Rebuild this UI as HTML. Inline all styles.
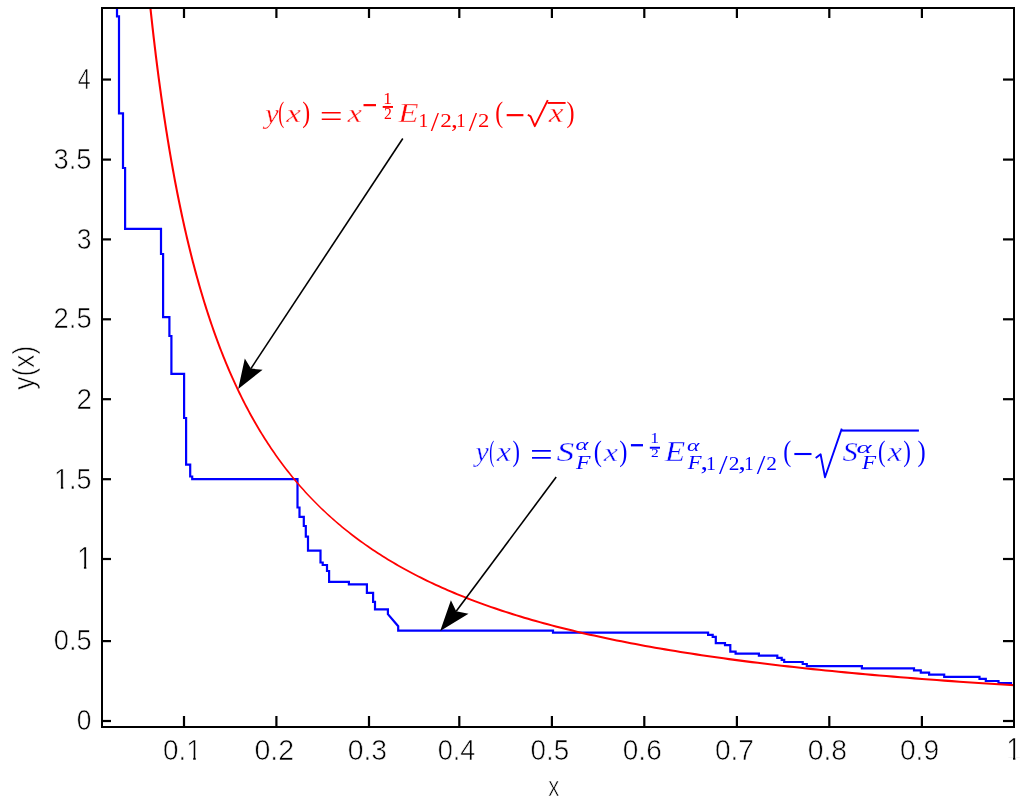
<!DOCTYPE html>
<html><head><meta charset="utf-8"><title>y(x) plot</title><style>
html,body{margin:0;padding:0;background:#fff;overflow:hidden;}
svg{display:block;will-change:transform;}
text{font-kerning:none;}
text.sm{stroke:none;}
.s{font-family:"Liberation Sans",sans-serif;stroke:#fff;stroke-width:0.6px;}
.m{font-family:"Liberation Serif",serif;}
.mi{font-family:"Liberation Serif",serif;font-style:italic;stroke:#fff;stroke-width:0.35px;}
</style></head><body>
<svg width="1024" height="810" viewBox="0 0 1024 810">
<defs><clipPath id="c1_0"><rect x="-280.000" y="-280.000" width="280.000" height="560.000"/><rect x="15.572" y="-280.000" width="280.000" height="560.000"/><rect x="-280.000" y="-280.000" width="840.000" height="277.471"/><rect x="7.041" y="-280.000" width="2.475" height="560.000"/></clipPath><clipPath id="c1_1"><rect x="-280.000" y="-280.000" width="280.000" height="560.000"/><rect x="15.572" y="-280.000" width="280.000" height="560.000"/><rect x="-280.000" y="-280.000" width="840.000" height="277.471"/><rect x="7.041" y="-280.000" width="2.475" height="560.000"/></clipPath><clipPath id="c1_2"><rect x="-280.000" y="-280.000" width="303.352" height="560.000"/><rect x="38.924" y="-280.000" width="280.000" height="560.000"/><rect x="-280.000" y="-280.000" width="840.000" height="277.471"/><rect x="30.393" y="-280.000" width="2.475" height="560.000"/></clipPath></defs>
<rect width="1024" height="810" fill="#fff"/>
<g fill="none" stroke-width="2.2" stroke-linejoin="miter">
<path d="M117,8 V16.4 H119 V113.3 H123 V168 H125.1 V228.9 H161 V254 H163.1 V317.1 H169.4 V336 H171.4 V373.8 H184.1 V418 H186.1 V464.6 H190.2 V476.5 H192.2 V479.1 H297.5 V507.5 H299.5 V516.9 H303.8 V526 H305.8 V536.6 H308 V550.7 H320.5 V562.5 H322.7 V565 H327 V571 H329.1 V581.9 H348.9 V584.4 H366.9 V592.8 H373.1 V601.9 H375 V609.4 H387.9 V614.2 L398.2,626.2 V630.6 H553 V632.7 H708.1 V634.9 H712.7 V636.9 H715.8 V643.2 H725 V645.2 H730.3 V651.6 H735.6 V653.7 H758.9 V655.7 H777.3 V657.9 H781.7 V659.8 H784.2 V662 H802.7 V664 H806.8 V666.1 H861.9 V668.4 H914 V670.4 H920.8 V672.6 H929.1 V674.7 H944.2 V676.8 H979.5 V678.9 H985.8 V681 H998.5 V683 H1011 V685 H1013" stroke="#0000ff"/>
<path d="M149.05,8.03 L149.07,8.37 L149.59,13.18 L150.11,17.96 L150.64,22.72 L151.17,27.45 L151.70,32.16 L152.24,36.84 L152.79,41.49 L153.34,46.12 L153.89,50.72 L154.45,55.30 L155.02,59.85 L155.59,64.37 L156.16,68.87 L156.74,73.35 L157.33,77.80 L157.92,82.23 L158.52,86.63 L159.12,91.01 L159.72,95.37 L160.34,99.70 L160.95,104.01 L161.58,108.29 L162.20,112.56 L162.84,116.79 L163.48,121.01 L164.12,125.20 L164.77,129.37 L165.43,133.52 L166.09,137.64 L166.76,141.74 L167.44,145.82 L168.12,149.88 L168.80,153.91 L169.49,157.93 L170.19,161.92 L170.90,165.89 L171.61,169.83 L172.33,173.76 L173.05,177.67 L173.78,181.55 L174.52,185.41 L175.26,189.25 L176.01,193.07 L176.77,196.87 L177.53,200.65 L178.30,204.41 L179.08,208.15 L179.86,211.87 L180.65,215.56 L181.45,219.24 L182.25,222.90 L183.07,226.53 L183.88,230.15 L184.71,233.75 L185.54,237.32 L186.39,240.88 L187.23,244.42 L188.09,247.94 L188.95,251.44 L189.83,254.92 L190.71,258.38 L191.59,261.82 L192.49,265.24 L193.39,268.65 L194.30,272.03 L195.22,275.40 L196.15,278.74 L197.08,282.07 L198.03,285.38 L198.98,288.67 L199.94,291.95 L200.91,295.20 L201.89,298.44 L202.87,301.66 L203.87,304.86 L204.87,308.04 L205.89,311.21 L206.91,314.35 L207.94,317.48 L208.98,320.59 L210.03,323.69 L211.09,326.76 L212.16,329.82 L213.23,332.86 L214.32,335.89 L215.42,338.89 L216.53,341.88 L217.64,344.86 L218.77,347.81 L219.91,350.75 L221.05,353.67 L222.21,356.58 L223.38,359.46 L224.56,362.33 L225.74,365.19 L226.94,368.03 L228.15,370.85 L229.37,373.65 L230.60,376.44 L231.85,379.21 L233.10,381.97 L234.36,384.71 L235.64,387.43 L236.93,390.14 L238.22,392.83 L239.53,395.50 L240.86,398.16 L242.19,400.80 L243.53,403.43 L244.89,406.04 L246.26,408.64 L247.64,411.22 L249.04,413.78 L250.44,416.33 L251.86,418.86 L253.29,421.38 L254.74,423.88 L256.19,426.37 L257.66,428.84 L259.14,431.30 L260.64,433.74 L262.15,436.17 L263.67,438.58 L265.21,440.98 L266.76,443.36 L268.32,445.72 L269.90,448.08 L271.49,450.41 L273.10,452.74 L274.72,455.04 L276.35,457.34 L278.00,459.61 L279.66,461.88 L281.34,464.13 L283.03,466.36 L284.74,468.58 L286.46,470.79 L288.20,472.98 L289.95,475.16 L291.72,477.32 L293.51,479.47 L295.31,481.61 L297.13,483.73 L298.96,485.84 L300.81,487.93 L302.67,490.01 L304.55,492.07 L306.45,494.13 L308.37,496.16 L310.30,498.19 L312.25,500.20 L314.21,502.20 L316.20,504.18 L318.19,506.16 L320.20,508.13 L322.23,510.08 L324.28,512.02 L326.34,513.95 L328.42,515.86 L330.53,517.76 L332.65,519.65 L334.79,521.52 L336.95,523.38 L339.12,525.23 L341.32,527.07 L343.54,528.89 L345.77,530.70 L348.03,532.50 L350.31,534.29 L352.60,536.06 L354.92,537.82 L357.26,539.57 L359.62,541.30 L362.00,543.02 L364.40,544.74 L366.82,546.43 L369.27,548.12 L371.73,549.80 L374.22,551.46 L376.73,553.11 L379.26,554.75 L381.82,556.37 L384.39,557.99 L386.99,559.59 L389.62,561.18 L392.26,562.76 L394.93,564.33 L397.62,565.88 L400.34,567.43 L403.08,568.96 L405.85,570.48 L408.64,571.99 L411.45,573.49 L414.29,574.98 L417.16,576.45 L420.05,577.92 L422.97,579.37 L425.91,580.81 L428.88,582.24 L431.87,583.66 L434.89,585.07 L437.94,586.47 L441.01,587.86 L444.12,589.24 L447.24,590.60 L450.40,591.96 L453.59,593.30 L456.80,594.63 L460.04,595.96 L463.31,597.27 L466.61,598.57 L469.94,599.86 L473.30,601.15 L476.68,602.42 L480.10,603.68 L483.55,604.93 L487.03,606.17 L490.53,607.40 L494.07,608.62 L497.65,609.83 L501.25,611.03 L504.88,612.22 L508.55,613.40 L512.25,614.58 L515.98,615.74 L519.75,616.89 L523.54,618.03 L527.38,619.16 L531.24,620.29 L535.14,621.40 L539.08,622.50 L543.04,623.60 L547.05,624.68 L551.09,625.76 L555.16,626.83 L559.27,627.88 L563.42,628.93 L567.61,629.97 L571.83,631.00 L576.09,632.02 L580.38,633.04 L584.72,634.04 L589.09,635.04 L593.50,636.02 L597.95,637.00 L602.44,637.97 L606.97,638.93 L611.54,639.88 L616.15,640.83 L620.80,641.76 L625.49,642.69 L630.22,643.60 L635.00,644.51 L639.82,645.42 L644.68,646.31 L649.58,647.20 L654.52,648.07 L659.51,648.94 L664.55,649.80 L669.63,650.66 L674.75,651.50 L679.92,652.34 L685.13,653.17 L690.39,653.99 L695.70,654.80 L701.06,655.61 L706.46,656.41 L711.91,657.20 L717.40,657.99 L722.95,658.76 L728.55,659.53 L734.19,660.29 L739.89,661.05 L745.63,661.79 L751.43,662.53 L757.27,663.27 L763.17,663.99 L769.12,664.71 L775.13,665.42 L781.18,666.13 L787.30,666.82 L793.46,667.52 L799.68,668.20 L805.95,668.88 L812.28,669.55 L818.67,670.21 L825.11,670.87 L831.61,671.52 L838.17,672.16 L844.78,672.80 L851.46,673.43 L858.19,674.05 L864.98,674.67 L871.83,675.28 L878.75,675.89 L885.72,676.49 L892.76,677.08 L899.85,677.67 L907.01,678.25 L914.24,678.82 L921.53,679.39 L928.88,679.96 L936.30,680.51 L943.78,681.06 L951.33,681.61 L958.95,682.15 L966.63,682.68 L974.38,683.21 L982.20,683.73 L990.09,684.25 L998.05,684.76 L1006.08,685.26 L1013.54,685.72 L1013.66,683.63 L1006.22,683.17 L998.19,682.67 L990.23,682.16 L982.34,681.64 L974.52,681.12 L966.78,680.59 L959.09,680.06 L951.48,679.52 L943.93,678.97 L936.45,678.42 L929.04,677.87 L921.69,677.30 L914.40,676.74 L907.18,676.16 L900.02,675.58 L892.93,675.00 L885.90,674.40 L878.93,673.80 L872.02,673.20 L865.17,672.59 L858.38,671.97 L851.65,671.35 L844.98,670.72 L838.37,670.08 L831.82,669.44 L825.32,668.79 L818.88,668.13 L812.50,667.47 L806.18,666.80 L799.90,666.12 L793.69,665.44 L787.53,664.75 L781.42,664.05 L775.37,663.35 L769.37,662.64 L763.42,661.92 L757.53,661.20 L751.69,660.47 L745.90,659.73 L740.16,658.98 L734.47,658.23 L728.83,657.47 L723.24,656.70 L717.70,655.93 L712.20,655.14 L706.76,654.35 L701.36,653.56 L696.01,652.75 L690.71,651.94 L685.46,651.12 L680.25,650.29 L675.08,649.46 L669.97,648.61 L664.89,647.76 L659.87,646.90 L654.88,646.04 L649.94,645.16 L645.05,644.28 L640.19,643.39 L635.38,642.49 L630.61,641.58 L625.89,640.66 L621.20,639.74 L616.56,638.81 L611.95,637.87 L607.39,636.92 L602.87,635.96 L598.39,635.00 L593.94,634.02 L589.54,633.04 L585.17,632.05 L580.85,631.05 L576.56,630.04 L572.31,629.02 L568.09,627.99 L563.92,626.96 L559.78,625.91 L555.67,624.86 L551.61,623.80 L547.57,622.72 L543.58,621.64 L539.62,620.55 L535.69,619.45 L531.80,618.35 L527.94,617.23 L524.12,616.10 L520.33,614.96 L516.57,613.82 L512.85,612.66 L509.16,611.50 L505.50,610.32 L501.87,609.14 L498.28,607.94 L494.72,606.74 L491.19,605.53 L487.69,604.30 L484.22,603.07 L480.78,601.83 L477.37,600.57 L473.99,599.31 L470.64,598.04 L467.32,596.75 L464.03,595.46 L460.77,594.15 L457.54,592.84 L454.33,591.51 L451.16,590.18 L448.01,588.83 L444.89,587.48 L441.80,586.11 L438.73,584.73 L435.69,583.34 L432.68,581.94 L429.69,580.53 L426.73,579.11 L423.80,577.68 L420.89,576.24 L418.01,574.79 L415.15,573.32 L412.32,571.85 L409.51,570.36 L406.73,568.86 L403.97,567.35 L401.24,565.83 L398.53,564.30 L395.84,562.76 L393.18,561.20 L390.54,559.64 L387.93,558.06 L385.33,556.47 L382.76,554.87 L380.21,553.26 L377.69,551.63 L375.19,550.00 L372.70,548.35 L370.24,546.69 L367.81,545.02 L365.39,543.33 L362.99,541.64 L360.62,539.93 L358.26,538.21 L355.93,536.48 L353.62,534.73 L351.32,532.97 L349.05,531.20 L346.80,529.42 L344.57,527.63 L342.35,525.82 L340.16,524.00 L337.98,522.17 L335.83,520.32 L333.69,518.46 L331.57,516.59 L329.47,514.71 L327.39,512.81 L325.32,510.90 L323.28,508.98 L321.25,507.04 L319.24,505.09 L317.25,503.13 L315.28,501.15 L313.33,499.15 L311.39,497.14 L309.48,495.12 L307.58,493.08 L305.70,491.03 L303.83,488.96 L301.98,486.89 L300.15,484.79 L298.33,482.69 L296.53,480.57 L294.75,478.44 L292.98,476.29 L291.22,474.13 L289.49,471.96 L287.76,469.77 L286.06,467.57 L284.36,465.35 L282.68,463.12 L281.02,460.87 L279.37,458.62 L277.74,456.34 L276.12,454.05 L274.51,451.75 L272.92,449.43 L271.34,447.10 L269.78,444.76 L268.23,442.40 L266.69,440.02 L265.17,437.63 L263.66,435.22 L262.16,432.80 L260.68,430.37 L259.21,427.92 L257.75,425.45 L256.31,422.97 L254.88,420.48 L253.46,417.97 L252.05,415.44 L250.65,412.90 L249.27,410.34 L247.90,407.77 L246.54,405.18 L245.19,402.58 L243.86,399.96 L242.54,397.32 L241.22,394.67 L239.92,392.00 L238.64,389.32 L237.36,386.62 L236.09,383.90 L234.84,381.17 L233.59,378.43 L232.36,375.66 L231.14,372.88 L229.92,370.08 L228.72,367.27 L227.53,364.44 L226.35,361.59 L225.18,358.73 L224.02,355.85 L222.87,352.95 L221.73,350.04 L220.60,347.11 L219.48,344.16 L218.37,341.20 L217.27,338.22 L216.18,335.22 L215.10,332.20 L214.03,329.17 L212.96,326.11 L211.91,323.05 L210.87,319.96 L209.83,316.86 L208.81,313.73 L207.79,310.59 L206.78,307.44 L205.78,304.26 L204.79,301.07 L203.81,297.86 L202.84,294.63 L201.87,291.38 L200.92,288.11 L199.97,284.83 L199.03,281.52 L198.10,278.20 L197.17,274.86 L196.26,271.50 L195.35,268.12 L194.45,264.73 L193.56,261.31 L192.68,257.87 L191.80,254.42 L190.93,250.95 L190.07,247.45 L189.22,243.94 L188.37,240.41 L187.54,236.86 L186.70,233.29 L185.88,229.70 L185.06,226.08 L184.26,222.45 L183.45,218.80 L182.66,215.13 L181.87,211.44 L181.09,207.73 L180.31,204.00 L179.55,200.24 L178.79,196.47 L178.03,192.67 L177.28,188.86 L176.54,185.02 L175.81,181.17 L175.08,177.29 L174.36,173.39 L173.64,169.47 L172.93,165.52 L172.23,161.56 L171.53,157.57 L170.84,153.56 L170.16,149.53 L169.48,145.48 L168.81,141.41 L168.14,137.31 L167.48,133.19 L166.82,129.05 L166.17,124.88 L165.53,120.70 L164.89,116.49 L164.26,112.25 L163.63,107.99 L163.01,103.71 L162.39,99.41 L161.78,95.08 L161.18,90.73 L160.58,86.35 L159.98,81.95 L159.39,77.53 L158.81,73.08 L158.23,68.61 L157.66,64.11 L157.09,59.59 L156.52,55.04 L155.96,50.47 L155.41,45.87 L154.86,41.24 L154.32,36.60 L153.78,31.92 L153.24,27.22 L152.71,22.49 L152.18,17.74 L151.66,12.96 L151.15,8.15 L151.15,7.97 Z" fill="#ff0000" stroke="none" transform="translate(0.4 0.6)"/>
</g>
<g fill="#000">
<rect x="101" y="7" width="914" height="2"/>
<rect x="101" y="726" width="914" height="2"/>
<rect x="101" y="7" width="2" height="721"/>
<rect x="1013" y="7" width="2" height="721"/>
<rect x="101" y="719.90" width="10" height="2.2"/><rect x="1003" y="719.90" width="10.5" height="2.2"/><rect x="101" y="640.00" width="10" height="2.2"/><rect x="1003" y="640.00" width="10.5" height="2.2"/><rect x="101" y="557.90" width="10" height="2.2"/><rect x="1003" y="557.90" width="10.5" height="2.2"/><rect x="101" y="478.10" width="10" height="2.2"/><rect x="1003" y="478.10" width="10.5" height="2.2"/><rect x="101" y="398.10" width="10" height="2.2"/><rect x="1003" y="398.10" width="10.5" height="2.2"/><rect x="101" y="318.20" width="10" height="2.2"/><rect x="1003" y="318.20" width="10.5" height="2.2"/><rect x="101" y="238.30" width="10" height="2.2"/><rect x="1003" y="238.30" width="10.5" height="2.2"/><rect x="101" y="158.50" width="10" height="2.2"/><rect x="1003" y="158.50" width="10.5" height="2.2"/><rect x="101" y="78.45" width="10" height="2.2"/><rect x="1003" y="78.45" width="10.5" height="2.2"/><rect x="182.90" y="716" width="2.2" height="10"/><rect x="182.90" y="8" width="2.2" height="10"/><rect x="275.30" y="716" width="2.2" height="10"/><rect x="275.30" y="8" width="2.2" height="10"/><rect x="367.90" y="716" width="2.2" height="10"/><rect x="367.90" y="8" width="2.2" height="10"/><rect x="458.20" y="716" width="2.2" height="10"/><rect x="458.20" y="8" width="2.2" height="10"/><rect x="550.80" y="716" width="2.2" height="10"/><rect x="550.80" y="8" width="2.2" height="10"/><rect x="643.20" y="716" width="2.2" height="10"/><rect x="643.20" y="8" width="2.2" height="10"/><rect x="735.80" y="716" width="2.2" height="10"/><rect x="735.80" y="8" width="2.2" height="10"/><rect x="828.20" y="716" width="2.2" height="10"/><rect x="828.20" y="8" width="2.2" height="10"/><rect x="920.80" y="716" width="2.2" height="10"/><rect x="920.80" y="8" width="2.2" height="10"/>
</g>
<g fill="#000">
<text class="s" font-size="28" transform="matrix(0.9414 0 0 1.0492 76.77 730.11)">0</text><text class="s" font-size="28" transform="matrix(0.9712 0 0 1.0593 53.84 650.11)">0.5</text><text class="s" font-size="28" transform="matrix(0.9528 0 0 1.1161 77.23 568.80)" clip-path="url(#c1_0)">1</text><text class="s" font-size="28" transform="matrix(0.9614 0 0 1.0851 54.11 488.50)" clip-path="url(#c1_1)">1.5</text><text class="s" font-size="28" transform="matrix(0.9956 0 0 1.0844 76.40 408.80)">2</text><text class="s" font-size="28" transform="matrix(0.9796 0 0 1.0341 53.52 328.32)">2.5</text><text class="s" font-size="28" transform="matrix(0.9491 0 0 1.0543 76.79 248.51)">3</text><text class="s" font-size="28" transform="matrix(0.9760 0 0 1.0644 53.56 168.71)">3.5</text><text class="s" font-size="28" transform="matrix(0.8292 0 0 1.0538 77.77 88.50)">4</text><text class="s" font-size="28" transform="matrix(0.9945 0 0 1.0694 163.01 759.71)" clip-path="url(#c1_2)">0.1</text><text class="s" font-size="28" transform="matrix(1.0186 0 0 1.0694 254.49 759.71)">0.2</text><text class="s" font-size="28" transform="matrix(1.0137 0 0 1.0694 347.69 759.71)">0.3</text><text class="s" font-size="28" transform="matrix(0.9700 0 0 1.0694 437.64 759.71)">0.4</text><text class="s" font-size="28" transform="matrix(0.9931 0 0 1.0694 530.51 759.71)">0.5</text><text class="s" font-size="28" transform="matrix(1.0000 0 0 1.0694 622.81 759.71)">0.6</text><text class="s" font-size="28" transform="matrix(1.0049 0 0 1.0694 714.90 759.71)">0.7</text><text class="s" font-size="28" transform="matrix(1.0133 0 0 1.0694 807.69 759.71)">0.8</text><text class="s" font-size="28" transform="matrix(1.0081 0 0 1.0694 899.90 759.71)">0.9</text><text class="s" font-size="28" transform="matrix(0.9234 0 0 1.0901 1006.51 760.00)" clip-path="url(#c1_0)">1</text><text class="s" font-size="28" transform="matrix(0.7919 0 0 0.9870 548.35 795.60)">x</text><text class="s" font-size="28" transform="translate(34.11 389.66) rotate(-90) scale(0.9388 1.0652)">y(x)</text>
</g>
<g fill="#ff0000"><text class="mi" font-size="27" transform="matrix(1.1227 0 0 1.0099 265.23 122.92)">y</text><text class="m" font-size="27" transform="matrix(0.6633 0 0 1.1110 278.21 122.41)">(</text><text class="mi" font-size="27" transform="matrix(1.2298 0 0 0.9280 286.21 121.90)">x</text><text class="m" font-size="27" transform="matrix(0.8797 0 0 1.1110 302.13 122.41)">)</text><text class="m" font-size="27" transform="matrix(1.5043 0 0 1.1704 319.78 127.04)">=</text><text class="mi" font-size="27" transform="matrix(1.2050 0 0 0.9441 347.40 122.00)">x</text><text class="m sm" font-size="17" transform="matrix(1.5801 0 0 2.5984 362.36 119.57)">−</text><text class="m sm" font-size="17" transform="matrix(1.0192 0 0 0.9445 383.28 103.80)">1</text><text class="m sm" font-size="17" transform="matrix(0.9244 0 0 0.9328 384.11 118.70)">2</text><text class="mi" font-size="27" transform="matrix(1.2337 0 0 1.0295 398.19 122.40)">E</text><text class="m sm" font-size="17" transform="matrix(1.1529 0 0 1.1049 418.38 126.70)">1</text><text class="m sm" font-size="17" transform="matrix(1.7361 0 0 1.6532 430.80 130.63)">/</text><text class="m sm" font-size="17" transform="matrix(1.3646 0 0 1.1016 440.18 126.70)">2</text><text class="m sm" font-size="17" transform="matrix(1.6194 0 0 1.3513 450.95 127.07)">,</text><text class="m sm" font-size="17" transform="matrix(1.1028 0 0 1.1049 456.35 126.70)">1</text><text class="m sm" font-size="17" transform="matrix(1.7573 0 0 1.6532 468.70 130.63)">/</text><text class="m sm" font-size="17" transform="matrix(1.3353 0 0 1.1016 478.10 126.70)">2</text><text class="m" font-size="27" transform="matrix(0.8797 0 0 1.1110 495.16 122.41)">(</text><text class="m" font-size="27" transform="matrix(1.3292 0 0 1.6360 504.91 130.07)">−</text><text class="mi" font-size="27" transform="matrix(1.2381 0 0 0.9845 548.81 122.20)">x</text><text class="m" font-size="27" transform="matrix(0.8941 0 0 1.1110 566.52 122.41)">)</text><rect x="382.7" y="106" width="10.3" height="1.9"/><rect x="547.6" y="102" width="18" height="1.9"/></g><path d="M527.8,114.8 L530.6,116.4 L534.8,126.2 L547.8,100.2" fill="none" stroke="#ff0000" stroke-width="1.9" stroke-linejoin="round"/><g fill="#0000ff"><text class="mi" font-size="27" transform="matrix(1.1087 0 0 1.0154 475.60 461.28)">y</text><text class="m" font-size="27" transform="matrix(0.5624 0 0 1.0947 489.13 460.91)">(</text><text class="mi" font-size="27" transform="matrix(1.1968 0 0 0.9925 496.79 461.00)">x</text><text class="m" font-size="27" transform="matrix(0.8220 0 0 1.0947 512.38 460.91)">)</text><text class="m" font-size="27" transform="matrix(1.4963 0 0 1.2444 529.99 466.26)">=</text><text class="mi" font-size="27" transform="matrix(1.3100 0 0 1.0253 556.59 460.63)">S</text><text class="mi sm" font-size="17" transform="matrix(1.4484 0 0 1.0009 575.57 450.33)">α</text><text class="mi sm" font-size="17" transform="matrix(1.3940 0 0 1.1319 576.03 469.40)">F</text><text class="m" font-size="27" transform="matrix(0.9085 0 0 1.1233 593.72 461.14)">(</text><text class="mi" font-size="27" transform="matrix(1.1885 0 0 0.9603 603.79 460.90)">x</text><text class="m" font-size="27" transform="matrix(0.9085 0 0 1.1233 619.31 461.14)">)</text><text class="m sm" font-size="17" transform="matrix(1.5296 0 0 2.7755 629.80 461.24)">−</text><text class="m sm" font-size="17" transform="matrix(1.0359 0 0 0.9089 650.25 442.50)">1</text><text class="m sm" font-size="17" transform="matrix(0.9098 0 0 0.7107 651.12 456.90)">2</text><text class="mi" font-size="27" transform="matrix(1.2398 0 0 1.0577 664.69 460.80)">E</text><text class="mi sm" font-size="17" transform="matrix(1.3909 0 0 1.0009 687.00 450.53)">α</text><text class="mi sm" font-size="17" transform="matrix(1.3281 0 0 1.0870 687.82 469.40)">F</text><text class="m sm" font-size="17" transform="matrix(1.7774 0 0 1.4200 700.55 470.09)">,</text><text class="m sm" font-size="17" transform="matrix(1.1696 0 0 1.0960 706.05 469.70)">1</text><text class="m sm" font-size="17" transform="matrix(1.8208 0 0 1.6268 718.90 473.53)">/</text><text class="m sm" font-size="17" transform="matrix(1.2619 0 0 1.0928 728.66 469.70)">2</text><text class="m sm" font-size="17" transform="matrix(1.8169 0 0 1.4200 738.22 470.09)">,</text><text class="m sm" font-size="17" transform="matrix(1.1028 0 0 1.0960 744.35 469.70)">1</text><text class="m sm" font-size="17" transform="matrix(1.8208 0 0 1.6268 756.70 473.53)">/</text><text class="m sm" font-size="17" transform="matrix(1.2619 0 0 1.0928 766.36 469.70)">2</text><text class="m" font-size="27" transform="matrix(0.8941 0 0 1.1151 783.14 461.19)">(</text><text class="m" font-size="27" transform="matrix(1.3690 0 0 1.5617 792.46 468.05)">−</text><text class="mi" font-size="27" transform="matrix(1.1295 0 0 1.0143 842.54 460.53)">S</text><text class="mi sm" font-size="17" transform="matrix(1.7013 0 0 0.9887 856.44 452.63)">α</text><text class="mi sm" font-size="17" transform="matrix(1.3564 0 0 1.0960 861.92 469.40)">F</text><text class="m" font-size="27" transform="matrix(0.8364 0 0 1.1192 877.91 461.17)">(</text><text class="mi" font-size="27" transform="matrix(1.2216 0 0 0.9764 887.40 460.80)">x</text><text class="m" font-size="27" transform="matrix(0.8508 0 0 1.1192 903.26 461.17)">)</text><text class="m" font-size="27" transform="matrix(0.9085 0 0 1.1192 917.61 461.17)">)</text><rect x="649.8" y="446.75" width="10.2" height="1.95"/><rect x="841.6" y="429.5" width="77.3" height="2.1"/></g><path d="M815.7,457.9 L820.6,454.2 L825,477.2 L841.8,428.6" fill="none" stroke="#0000ff" stroke-width="1.9" stroke-linejoin="round"/><line x1="402.8" y1="138.5" x2="250.91" y2="368.58" stroke="#000" stroke-width="1.6"/><polygon points="238.2,389 244.8,358.4 250.91,368.58 262.6,369.8" fill="#000"/><line x1="556.2" y1="477" x2="456.19" y2="611.30" stroke="#000" stroke-width="1.6"/><polygon points="440.2,631.1 450.9,600.2 456.19,611.30 468.5,613.7" fill="#000"/>
</svg>
</body></html>
